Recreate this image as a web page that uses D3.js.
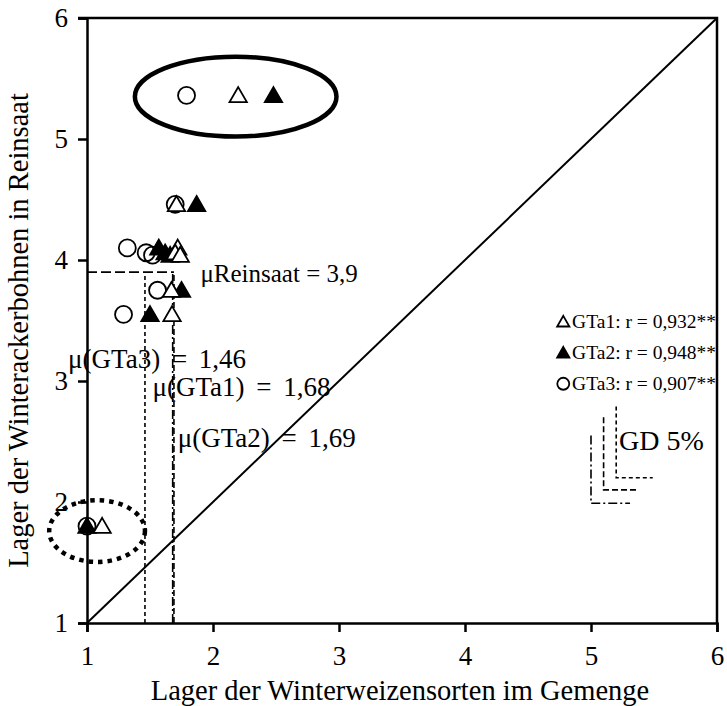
<!DOCTYPE html>
<html>
<head>
<meta charset="utf-8">
<script src="https://cdn.jsdelivr.net/npm/d3@7"></script>
<style>
  html, body { margin: 0; padding: 0; background: #fff; }
  svg { display: block; }
</style>
</head>
<body>
<svg id="chart" width="727" height="706"></svg>
<script>
// Reinsaat values (y) for the 8 sites
const reinsaat = [5.36, 4.46, 4.10, 4.06, 4.04, 3.75, 3.55, 1.80]
// Gemenge values (x) per Winterweizen type, same site order
const gta1 = [2.20, 1.71, 1.72, 1.70, 1.74, 1.67, 1.675, 1.12]
const gta2 = [2.48, 1.87, 1.57, 1.62, 1.66, 1.75, 1.50, 1.00]
const gta3 = [1.79, 1.70, 1.32, 1.47, 1.52, 1.56, 1.29, 1.00]

const seriesNames = ['GTa1', 'GTa2', 'GTa3']
const correlations = ['0,932**', '0,948**', '0,907**']
const means = [1.68, 1.69, 1.46]
const meanReinsaat = 3.9
// GD 5% per series: [x anchor, y anchor, vertical length, horizontal length]
const gd = [[5.00, 1.99, 0.56, 0.31], [5.10, 2.10, 0.60, 0.27], [5.20, 2.20, 0.59, 0.29]]
const ticks = [1, 2, 3, 4, 5, 6]

const width = 727
const height = 706
const margin = { top: 18, right: 10, bottom: 83, left: 87 }
const font = '"Liberation Serif", "Times New Roman", Times, serif'

const x = d3.scaleLinear().domain([1, 6]).range([margin.left, width - margin.right])
const y = d3.scaleLinear().domain([1, 6]).range([height - margin.bottom, margin.top])

const svg = d3.select('#chart').attr('font-family', font)

const dashes = { GTa1: '9,3,2,3', GTa2: '6,3', GTa3: '4,3' }

// diagonal 1:1
svg.append('line')
  .attr('x1', x(1)).attr('y1', y(1))
  .attr('x2', x(6)).attr('y2', y(6))
  .attr('stroke', '#000').attr('stroke-width', 2)

// mean lines
const meanG = svg.append('g').attr('id', 'means')
means.forEach((m, i) => {
  meanG.append('line')
    .attr('x1', x(m)).attr('x2', x(m))
    .attr('y1', y(1)).attr('y2', y(meanReinsaat))
    .attr('stroke', '#000').attr('stroke-width', 1.6)
    .attr('stroke-dasharray', dashes[seriesNames[i]])
})
meanG.append('line')
  .attr('x1', x(1)).attr('x2', x(d3.max(means)))
  .attr('y1', y(meanReinsaat)).attr('y2', y(meanReinsaat))
  .attr('stroke', '#000').attr('stroke-width', 1.6)
  .attr('stroke-dasharray', '10,4')

// axes
const xAxis = svg.append('g')
  .attr('transform', `translate(0,${y(1)})`)
  .call(d3.axisBottom(x).tickValues(ticks).tickSize(9).tickPadding(14).tickFormat(d3.format('d')))
const yAxis = svg.append('g')
  .attr('transform', `translate(${x(1)},0)`)
  .call(d3.axisLeft(y).tickValues(ticks).tickSize(9).tickPadding(10).tickFormat(d3.format('d')))

;[xAxis, yAxis].forEach((a) => {
  a.attr('font-family', font).attr('font-size', 27)
  a.select('.domain').attr('stroke-width', 2.5)
  a.selectAll('.tick line').attr('stroke-width', 2.5)
  a.selectAll('.tick text').attr('fill', '#000')
})
yAxis.selectAll('.tick text').attr('dy', '0.32em')

// top and right frame
svg.append('path')
  .attr('d', `M${x(1) - 9},${y(6)}H${x(6)}V${y(1)}`)
  .attr('fill', 'none')
  .attr('stroke', '#000')
  .attr('stroke-width', 2.5)

// axis titles
svg.append('text')
  .attr('x', (x(1) + x(6)) / 2 - 2)
  .attr('y', 700)
  .attr('text-anchor', 'middle')
  .attr('font-size', 28.5)
  .text('Lager der Winterweizensorten im Gemenge')

svg.append('text')
  .attr('transform', `translate(28,${(y(1) + y(6)) / 2 + 10}) rotate(-90)`)
  .attr('text-anchor', 'middle')
  .attr('font-size', 28.5)
  .text('Lager der Winterackerbohnen in Reinsaat')

// markers
const tri = (s) => d3.symbol().type(d3.symbolTriangle).size(s)()
function drawMarker(g, name, px, py, s) {
  if (name === 'GTa3') {
    g.append('circle')
      .attr('cx', px).attr('cy', py).attr('r', s / 2)
      .attr('fill', 'none').attr('stroke', '#000').attr('stroke-width', 1.8)
  } else {
    g.append('path')
      .attr('d', tri(s * s * 0.45))
      .attr('transform', `translate(${px},${py + s * 0.1})`)
      .attr('fill', name === 'GTa2' ? '#000' : '#fff')
      .attr('stroke', '#000').attr('stroke-width', 1.8)
  }
}

const pts = svg.append('g').attr('id', 'points')
const series = { GTa1: gta1, GTa2: gta2, GTa3: gta3 }
;['GTa3', 'GTa2', 'GTa1'].forEach((name) => {
  series[name].forEach((v, i) => drawMarker(pts, name, x(v), y(reinsaat[i]), 17))
})

// highlight ellipses
svg.append('ellipse')
  .attr('cx', x(2.18)).attr('cy', y(5.35))
  .attr('rx', x(1.80) - x(1)).attr('ry', y(1) - y(1.33))
  .attr('fill', 'none').attr('stroke', '#000').attr('stroke-width', 4.5)

svg.append('ellipse')
  .attr('cx', x(1.08)).attr('cy', y(1.76))
  .attr('rx', x(1.38) - x(1)).attr('ry', y(1) - y(1.255))
  .attr('fill', 'none').attr('stroke', '#000').attr('stroke-width', 4.5)
  .attr('stroke-dasharray', '4.5,5')

// labels
const labels = [
  { text: 'μReinsaat = 3,9', x: 1.90, y: 3.82, size: 25, ws: 0 },
  { text: 'μ(GTa3) = 1,46', x: 0.85, y: 3.11, size: 27, ws: 5 },
  { text: 'μ(GTa1) = 1,68', x: 1.52, y: 2.875, size: 27, ws: 5 },
  { text: 'μ(GTa2) = 1,69', x: 1.72, y: 2.455, size: 27, ws: 5 },
  { text: 'GD 5%', x: 5.222, y: 2.43, size: 28, ws: 0 },
]
svg.append('g').selectAll('text')
  .data(labels)
  .join('text')
  .attr('x', (d) => x(d.x))
  .attr('y', (d) => y(d.y))
  .attr('font-size', (d) => d.size)
  .attr('word-spacing', (d) => d.ws)
  .text((d) => d.text)

// GD 5% bars
gd.forEach((g, i) => {
  svg.append('path')
    .attr('d', `M${x(g[0])},${y(g[1] + g[2])}V${y(g[1])}H${x(g[0] + g[3])}`)
    .attr('fill', 'none').attr('stroke', '#000').attr('stroke-width', 1.6)
    .attr('stroke-dasharray', dashes[seriesNames[i]])
})

// legend
const legend = svg.append('g').attr('id', 'legend')
seriesNames.forEach((name, i) => {
  const ly = y(3.44) + i * 31
  drawMarker(legend, name, x(4.78), ly - 6, 12)
  legend.append('text')
    .attr('x', x(4.85))
    .attr('y', ly)
    .attr('font-size', 19.5)
    .text(`${name}: r = ${correlations[i]}`)
})
</script>
</body>
</html>
